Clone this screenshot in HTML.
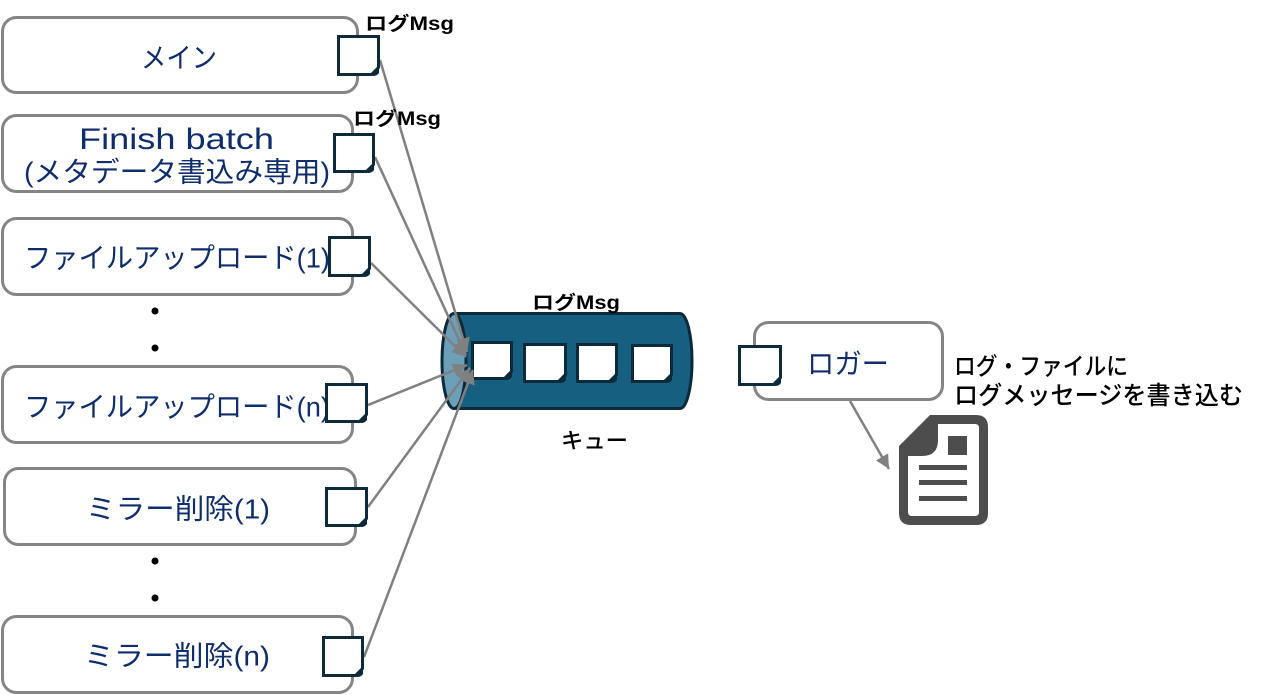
<!DOCTYPE html>
<html><head><meta charset="utf-8"><style>
html,body{margin:0;padding:0;background:#fff;}
svg{display:block;}
.bx{fill:#fff;stroke:#858585;stroke-width:3;}
.t{font-family:"Liberation Sans","Noto Sans CJK JP",sans-serif;fill:#0f2d6b;font-size:28px;}
.k{font-family:"Liberation Sans","Noto Sans CJK JP",sans-serif;fill:#000;}
.ln{stroke:#808080;stroke-width:2.5;fill:none;}
.nt{fill:#fff;stroke:#0d2a3b;stroke-width:3;stroke-linejoin:miter;}
.nf{fill:#0d2a3b;}
</style></head><body>
<svg width="1262" height="695" viewBox="0 0 1262 695" xmlns="http://www.w3.org/2000/svg">
<defs>
<marker id="ah" markerUnits="userSpaceOnUse" markerWidth="16" markerHeight="14" refX="14" refY="7" orient="auto">
<path d="M0,0 L14,7 L0,14 Z" fill="#808080"/>
</marker>
</defs>

<!-- boxes -->
<rect class="bx" x="2.5" y="17.5" width="355" height="75" rx="14"/>
<rect class="bx" x="2.5" y="115.5" width="350" height="76" rx="14"/>
<rect class="bx" x="2.5" y="218.5" width="350" height="76" rx="14"/>
<rect class="bx" x="2.5" y="366.5" width="350" height="76" rx="14"/>
<rect class="bx" x="4.5" y="468.5" width="351" height="76" rx="14"/>
<rect class="bx" x="2.5" y="616.5" width="350" height="76" rx="14"/>
<rect class="bx" x="754.5" y="322.5" width="188" height="77" rx="14"/>

<!-- box texts -->
<text class="t" x="141" y="58" dominant-baseline="central" textLength="76" lengthAdjust="spacingAndGlyphs">メイン</text>
<text class="t" x="79" y="149" style="font-size:30px" textLength="195" lengthAdjust="spacingAndGlyphs">Finish batch</text>
<text class="t" x="24" y="172" style="font-size:28px" dominant-baseline="central" textLength="306" lengthAdjust="spacingAndGlyphs">(メタデータ書込み専用)</text>
<text class="t" x="24" y="258" dominant-baseline="central" textLength="306" lengthAdjust="spacingAndGlyphs">ファイルアップロード(1)</text>
<text class="t" x="24" y="407" dominant-baseline="central" textLength="306" lengthAdjust="spacingAndGlyphs">ファイルアップロード(n)</text>
<text class="t" x="86" y="509" dominant-baseline="central" textLength="184" lengthAdjust="spacingAndGlyphs">ミラー削除(1)</text>
<text class="t" x="84" y="656" dominant-baseline="central" textLength="186" lengthAdjust="spacingAndGlyphs">ミラー削除(n)</text>
<text class="t" x="807" y="364" dominant-baseline="central" textLength="82" lengthAdjust="spacingAndGlyphs">ロガー</text>

<!-- dots -->
<circle cx="155" cy="311" r="3.5" fill="#000"/>
<circle cx="155" cy="348" r="3.5" fill="#000"/>
<circle cx="155" cy="561" r="3.5" fill="#000"/>
<circle cx="155" cy="598" r="3.5" fill="#000"/>

<!-- queue cylinder -->
<path d="M454,313.5 H680 A12,47.5 0 0 1 680,408.5 H454 Z" fill="#175f80" stroke="#0d2a3b" stroke-width="3"/>
<ellipse cx="454" cy="361" rx="12" ry="47.5" fill="#6c9fb8" stroke="#0d2a3b" stroke-width="3"/>

<!-- queue notes -->
<g>
<path class="nt" d="M472.5,342.5 H511.5 V371.5 L504.5,378.5 H472.5 Z"/><path class="nf" d="M504,379 L512,371 L512,377 Q510,380 506,380 Z"/>
<path class="nt" d="M524.5,344.5 H565.5 V374.5 L558.5,381.5 H524.5 Z"/><path class="nf" d="M558,382 L566,374 L566,380 Q564,383 560,383 Z"/>
<path class="nt" d="M577.5,344.5 H616.5 V374.5 L609.5,381.5 H577.5 Z"/><path class="nf" d="M609,382 L617,374 L617,380 Q615,383 611,383 Z"/>
<path class="nt" d="M632.5,345.5 H671.5 V374.5 L664.5,381.5 H632.5 Z"/><path class="nf" d="M664,382 L672,374 L672,380 Q670,383 666,383 Z"/>
</g>

<!-- connectors -->
<line class="ln" x1="380" y1="60" x2="467" y2="352" marker-end="url(#ah)"/>
<line class="ln" x1="375" y1="157" x2="466" y2="355" marker-end="url(#ah)"/>
<line class="ln" x1="371" y1="263" x2="466" y2="357" marker-end="url(#ah)"/>
<line class="ln" x1="368" y1="405" x2="467" y2="365" marker-end="url(#ah)"/>
<line class="ln" x1="368" y1="507" x2="470" y2="368" marker-end="url(#ah)"/>
<line class="ln" x1="364" y1="657" x2="473" y2="370" marker-end="url(#ah)"/>
<line class="ln" x1="850" y1="401" x2="889" y2="469" marker-end="url(#ah)"/>

<!-- source notes -->
<path class="nt" d="M338.5,36.5 H378.5 V67.5 L371.5,74.5 H338.5 Z"/><path class="nf" d="M371,75 L379,67 L379,73 Q377,76 373,76 Z"/>
<path class="nt" d="M334.5,134.5 H373.5 V164.5 L366.5,171.5 H334.5 Z"/><path class="nf" d="M366,172 L374,164 L374,170 Q372,173 368,173 Z"/>
<path class="nt" d="M329.5,237.5 H369.5 V268.5 L362.5,275.5 H329.5 Z"/><path class="nf" d="M362,276 L370,268 L370,274 Q368,277 364,277 Z"/>
<path class="nt" d="M326.5,384.5 H366.5 V414.5 L359.5,421.5 H326.5 Z"/><path class="nf" d="M359,422 L367,414 L367,420 Q365,423 361,423 Z"/>
<path class="nt" d="M326.5,488.5 H366.5 V518.5 L359.5,525.5 H326.5 Z"/><path class="nf" d="M359,526 L367,518 L367,524 Q365,527 361,527 Z"/>
<path class="nt" d="M323.5,637.5 H362.5 V668.5 L355.5,675.5 H323.5 Z"/><path class="nf" d="M355,676 L363,668 L363,674 Q361,677 357,677 Z"/>
<path class="nt" d="M739.5,346.5 H780.5 V377.5 L773.5,384.5 H739.5 Z"/><path class="nf" d="M773,385 L781,377 L781,383 Q779,386 775,386 Z"/>

<!-- labels -->
<text class="k" x="365" y="30" style="font-size:19px;font-weight:700" textLength="89" lengthAdjust="spacingAndGlyphs">ログMsg</text>
<text class="k" x="353" y="125" style="font-size:19px;font-weight:700" textLength="88" lengthAdjust="spacingAndGlyphs">ログMsg</text>
<text class="k" x="532" y="309" style="font-size:19px;font-weight:700" textLength="88" lengthAdjust="spacingAndGlyphs">ログMsg</text>
<text class="k" x="561" y="441" style="font-size:22px;font-weight:500" dominant-baseline="central" textLength="67" lengthAdjust="spacingAndGlyphs">キュー</text>
<text class="k" x="954" y="367" style="font-size:24px;font-weight:500" dominant-baseline="central" textLength="174" lengthAdjust="spacingAndGlyphs">ログ・ファイルに</text>
<text class="k" x="954" y="396" style="font-size:25px;font-weight:500" dominant-baseline="central" textLength="289" lengthAdjust="spacingAndGlyphs">ログメッセージを書き込む</text>

<!-- file icon -->
<path d="M930,415 H976 Q988,415 988,427 V513 Q988,525 976,525 H911 Q899,525 899,513 V446 Z" fill="#4d4d4d"/>
<path d="M938,424 H975 Q979,424 979,428 V512 Q979,516 975,516 H912 Q908,516 908,512 V456 L922,456 Q938,456 938,440 Z" fill="#fff"/>
<rect x="948" y="436" width="19" height="19" fill="#4d4d4d"/>
<rect x="919" y="465" width="48" height="5" fill="#4d4d4d"/>
<rect x="919" y="480" width="48" height="5" fill="#4d4d4d"/>
<rect x="919" y="496" width="48" height="5" fill="#4d4d4d"/>
</svg>
</body></html>
